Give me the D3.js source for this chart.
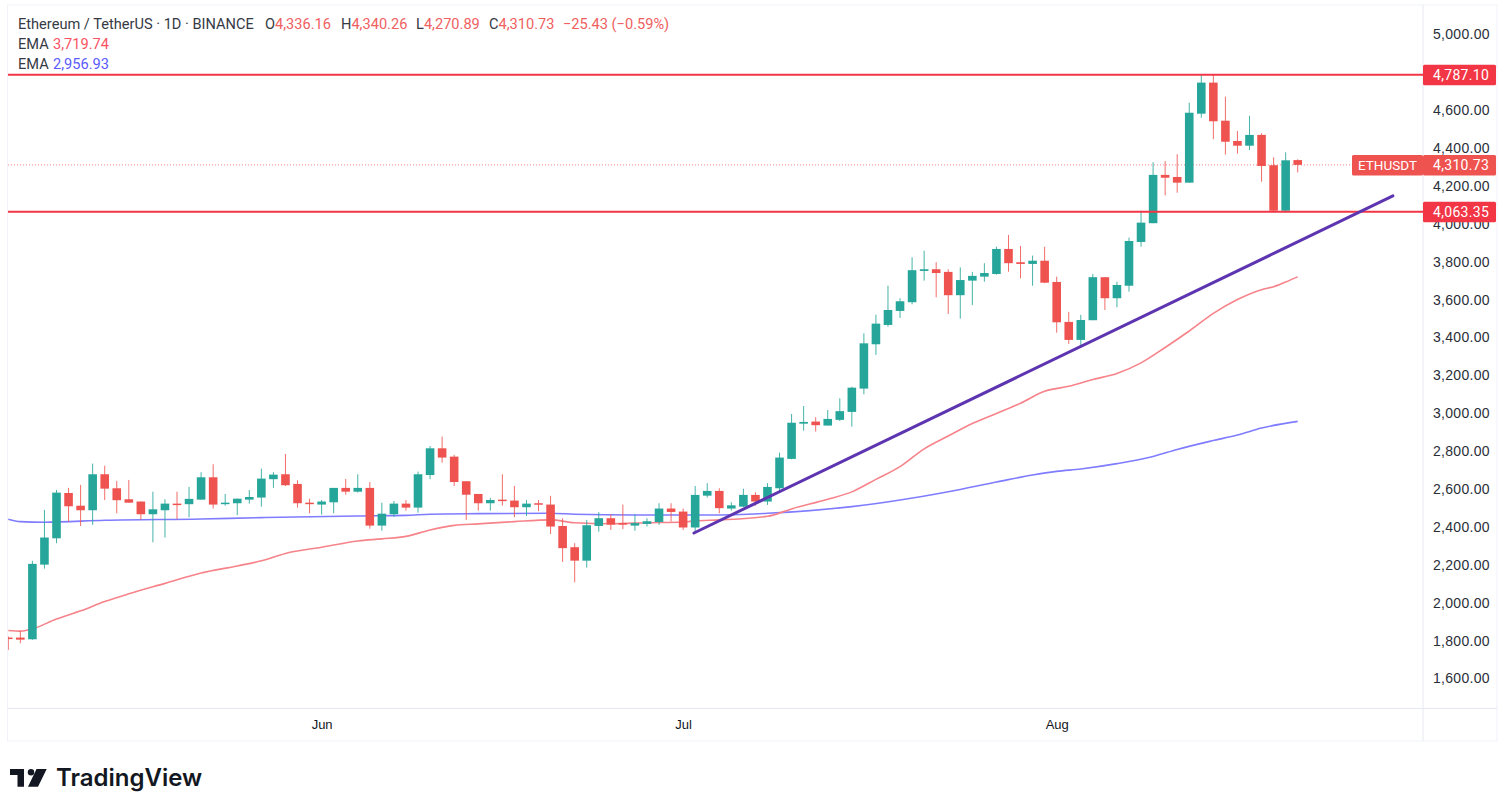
<!DOCTYPE html>
<html>
<head>
<meta charset="utf-8">
<title>ETHUSDT</title>
<script src="https://cdn.jsdelivr.net/npm/d3@7"></script>
<style>
    html, body { margin: 0; background: #fff; overflow: hidden; }
    svg { display: block; font-family: Roboto, sans-serif; }
</style>
</head>
<body>
<div id="chart"></div>
<script>
const COLOR_UP = "#26a69a",
    COLOR_DOWN = "#ef5350",
    COLOR_LEVEL = "#f23645",
    COLOR_EMA_FAST = "#f7838a",
    COLOR_EMA_SLOW = "#7f7cff",
    COLOR_TREND = "#5e35b1",
    COLOR_TEXT = "#131722",
    COLOR_LEGEND = "#363a45",
    COLOR_BORDER = "#e6e8ef";

// Bougies journalières
const opens = [1816,1816,1807,2201,2340,2579,2512,2488,2678,2604,2546,2534,2467,2488,2523,2520,2544,2662,2525,2525,
    2544,2555,2652,2678,2627,2528,2518,2530,2606,2586,2606,2407,2467,2523,2502,2674,2815,2771,2641,2574,
    2525,2544,2539,2504,2525,2518,2405,2293,2222,2405,2446,2420,2407,2416,2426,2497,2481,2397,2565,2590,
    2497,2507,2569,2534,2604,2759,2945,2956,2935,2965,3007,3130,3364,3466,3540,3586,3751,3760,3746,3623,
    3700,3721,3735,3867,3797,3788,3805,3693,3482,3387,3491,3718,3607,3673,3904,4003,4258,4247,4217,4581,
    4745,4544,4437,4412,4469,4309,4069,4336.16];
const highs = [1822,1851,2221,2490,2595,2606,2622,2734,2723,2643,2648,2534,2586,2546,2586,2611,2689,2731,2574,2549,
    2595,2708,2689,2785,2646,2549,2542,2606,2653,2678,2637,2528,2537,2542,2692,2827,2877,2780,2641,2574,
    2553,2678,2616,2542,2542,2564,2446,2314,2437,2478,2467,2518,2467,2446,2525,2525,2497,2616,2631,2604,
    2530,2602,2583,2631,2792,2996,3038,2979,3017,3079,3140,3422,3520,3673,3607,3823,3858,3797,3760,3770,
    3746,3792,3879,3941,3883,3832,3879,3721,3535,3519,3735,3718,3694,3927,4069,4325,4331,4367,4639,4787,
    4787,4671,4490,4570,4478,4351,4377,4340.26];
const lows = [1751,1786,1804,2180,2314,2428,2405,2411,2542,2472,2527,2437,2319,2344,2441,2451,2544,2497,2512,2462,
    2523,2507,2606,2616,2502,2472,2465,2472,2570,2581,2391,2380,2454,2486,2475,2652,2739,2616,2437,2486,
    2486,2512,2451,2458,2483,2363,2215,2108,2185,2375,2384,2389,2380,2402,2411,2428,2384,2367,2555,2472,
    2486,2505,2512,2516,2586,2757,2908,2903,2935,2959,2929,3100,3308,3457,3503,3575,3700,3612,3524,3499,
    3571,3694,3731,3747,3712,3673,3686,3425,3366,3351,3491,3545,3559,3642,3879,4003,4150,4164,4217,4560,
    4447,4365,4370,4389,4222,4059,4059,4270.89];
const closes = [1813,1805,2205,2344,2581,2509,2488,2678,2602,2541,2528,2467,2493,2523,2518,2548,2662,2518,2528,2549,
    2558,2655,2676,2620,2525,2525,2534,2606,2586,2606,2407,2470,2523,2502,2678,2815,2766,2637,2570,2525,
    2542,2539,2504,2523,2521,2402,2288,2222,2409,2446,2412,2412,2420,2430,2497,2479,2397,2569,2590,2499,
    2514,2569,2534,2611,2766,2950,2954,2937,2970,3011,3135,3369,3473,3545,3591,3755,3760,3740,3623,3703,
    3725,3740,3867,3792,3788,3805,3689,3480,3387,3492,3718,3607,3677,3909,4006,4258,4243,4217,4586,4745,
    4541,4433,4412,4469,4305,4069,4335,4310.73];

// Moyennes mobiles : index de bougie et valeur
const emaFastIndex = [0,1,2,4,6,8,10,13,16,19,21,23,26,29,31,33,35,37,39,42,45,47,50,53,56,57,59,63,65,68,70,72,74,76,78,80,82,84,86,88,90,92,94,96,98,100,102,104,105,106,107];
const emaFastValues = [1853,1850,1862,1914,1957,2006,2047,2102,2157,2194,2221,2260,2293,2326,2337,2350,2384,2408,2416,2428,2437,2422,2417,2422,2426,2432,2437,2456,2495,2546,2585,2651,2718,2812,2880,2946,2999,3053,3116,3142,3178,3210,3266,3347,3434,3527,3600,3652,3668,3693,3719.74];
const emaSlowIndex = [0,1,3,8,16,21,29,33,35,39,45,47,52,58,63,70,74,78,82,85,87,89,92,95,97,100,102,104,107];
const emaSlowValues = [2441,2428,2425,2435,2442,2449,2458,2461,2467,2470,2472,2467,2463,2463,2472,2507,2542,2586,2637,2674,2693,2706,2734,2772,2809,2856,2885,2922,2956.93];

// Ligne de tendance
const trendIndex = [56.9, 114.9];
const trendValues = [2368, 4147];

// Niveaux et axes
const levels = [4787.10, 4063.35];
const lastPrice = 4310.73;
const priceTicks = [1600,1800,2000,2200,2400,2600,2800,3000,3200,3400,3600,3800,4000,4200,4400,4600,5000];
const monthIndex = [26, 56, 87];
const monthLabels = ["Jun", "Jul", "Aug"];

// Légende
const legendQuote = [["O", "4,336.16", 265], ["H", "4,340.26", 341], ["L", "4,270.89", 416], ["C", "4,310.73", 489]];
const legendChange = "\u221225.43 (\u22120.59%)";
const legendEma = [["3,719.74", "#f7525f"], ["2,956.93", "#5b5bff"]];

const width = 1507, height = 807;
const plot = { left: 8, right: 1423, top: 5, bottom: 708.5, outerRight: 1497, outerBottom: 741 };

const x = d3.scaleLinear().domain([0, 107]).range([8.3, 1297.7]);
const y = d3.scaleLinear().domain([1600, 5000]).range([678.5, 34.3]);
const price = d3.format(",.2f");

const svg = d3.select("#chart")
    .append("svg")
    .attr("width", width)
    .attr("height", height);

svg.append("defs").append("clipPath")
    .attr("id", "plot-clip")
    .append("rect")
    .attr("x", plot.left)
    .attr("y", plot.top)
    .attr("width", plot.right - plot.left)
    .attr("height", plot.bottom - plot.top);

// Cadre
svg.append("rect")
    .attr("x", 7.5)
    .attr("y", plot.top)
    .attr("width", plot.outerRight - 7.5)
    .attr("height", plot.outerBottom - plot.top)
    .attr("fill", "none")
    .attr("stroke", "#f0f3fa");
svg.append("line")
    .attr("x1", plot.right).attr("x2", plot.right)
    .attr("y1", plot.top).attr("y2", plot.outerBottom)
    .attr("stroke", COLOR_BORDER);
svg.append("line")
    .attr("x1", 7.5).attr("x2", plot.outerRight)
    .attr("y1", plot.bottom).attr("y2", plot.bottom)
    .attr("stroke", COLOR_BORDER);

const chart = svg.append("g").attr("clip-path", "url(#plot-clip)");

// EMA derrière les bougies
function drawEma(indexes, values, color) {
    const line = d3.line()
        .x(i => x(indexes[i]))
        .y(i => y(values[i]))
        .curve(d3.curveMonotoneX);
    chart.append("path")
        .attr("d", line(d3.range(indexes.length)))
        .attr("fill", "none")
        .attr("stroke", color)
        .attr("stroke-width", 1.6);
}
drawEma(emaSlowIndex, emaSlowValues, COLOR_EMA_SLOW);
drawEma(emaFastIndex, emaFastValues, COLOR_EMA_FAST);

// Ligne du dernier prix
chart.append("line")
    .attr("x1", plot.left).attr("x2", 1352)
    .attr("y1", y(lastPrice)).attr("y2", y(lastPrice))
    .attr("stroke", COLOR_DOWN)
    .attr("stroke-opacity", 0.7)
    .attr("stroke-dasharray", "1 2");

// Bougies
const candles = chart.selectAll(".candle")
    .data(d3.range(opens.length))
    .enter()
    .append("g")
    .attr("class", "candle")
    .attr("fill", i => closes[i] >= opens[i] ? COLOR_UP : COLOR_DOWN)
    .attr("stroke", i => closes[i] >= opens[i] ? COLOR_UP : COLOR_DOWN);

candles.append("line")
    .attr("x1", i => x(i)).attr("x2", i => x(i))
    .attr("y1", i => y(highs[i]))
    .attr("y2", i => y(lows[i]))
    .attr("stroke-width", 1)
    .attr("stroke-opacity", 0.85);

candles.append("rect")
    .attr("x", i => x(i) - 4.3)
    .attr("width", 8.6)
    .attr("y", i => y(Math.max(opens[i], closes[i])))
    .attr("height", i => Math.max(Math.abs(y(opens[i]) - y(closes[i])), 1.5))
    .attr("stroke", "none");

// Niveaux horizontaux
chart.selectAll(".level")
    .data(levels)
    .enter()
    .append("line")
    .attr("class", "level")
    .attr("x1", plot.left).attr("x2", plot.right)
    .attr("y1", d => y(d)).attr("y2", d => y(d))
    .attr("stroke", COLOR_LEVEL)
    .attr("stroke-width", 2);

// Ligne de tendance
svg.append("line")
    .attr("x1", x(trendIndex[0])).attr("y1", y(trendValues[0]))
    .attr("x2", x(trendIndex[1])).attr("y2", y(trendValues[1]))
    .attr("stroke", COLOR_TREND)
    .attr("stroke-width", 3)
    .attr("stroke-linecap", "round");

// Axe des prix
const priceAxis = svg.append("g")
    .attr("transform", `translate(${plot.right},0)`)
    .call(d3.axisRight(y).tickValues(priceTicks).tickSize(0).tickPadding(10).tickFormat(price));
priceAxis.select(".domain").remove();
priceAxis.selectAll("text")
    .attr("fill", "#2a2e39")
    .style("font-size", "14px")
    .style("letter-spacing", "0.3px");

// Axe du temps
const timeAxis = svg.append("g")
    .attr("transform", `translate(0,${plot.bottom})`)
    .call(d3.axisBottom(x).tickValues(monthIndex).tickSize(0).tickPadding(11).tickFormat((d, i) => monthLabels[i]));
timeAxis.select(".domain").remove();
timeAxis.selectAll("text")
    .attr("fill", COLOR_TEXT)
    .style("font-size", "13px")
    .style("font-weight", 500);

// Étiquettes de prix
function priceTag(value, color) {
    svg.append("rect")
        .attr("x", plot.right)
        .attr("y", y(value) - 10)
        .attr("width", 73)
        .attr("height", 20.5)
        .attr("rx", 1.5)
        .attr("fill", color);
    svg.append("text")
        .attr("x", plot.right + 10)
        .attr("y", y(value))
        .attr("dy", "0.35em")
        .attr("fill", "#fff")
        .style("font-size", "14px")
        .style("letter-spacing", "0.3px")
        .text(price(value));
}
levels.forEach(d => priceTag(d, COLOR_LEVEL));

svg.append("rect")
    .attr("x", 1352)
    .attr("y", y(lastPrice) - 10)
    .attr("width", 71)
    .attr("height", 20.5)
    .attr("rx", 1.5)
    .attr("fill", COLOR_DOWN);
svg.append("text")
    .attr("x", 1358)
    .attr("y", y(lastPrice))
    .attr("dy", "0.35em")
    .attr("fill", "#fff")
    .style("font-size", "13.5px")
    .text("ETHUSDT");
priceTag(lastPrice, COLOR_DOWN);

// Légende en haut à gauche
const legend = svg.append("g").style("font-size", "14.6px");
legend.append("text")
    .attr("x", 18).attr("y", 29)
    .attr("fill", COLOR_LEGEND)
    .text("Ethereum / TetherUS \u00b7 1D \u00b7 BINANCE");

legendQuote.forEach(d => {
    const label = legend.append("text")
        .attr("x", d[2]).attr("y", 29)
        .attr("fill", COLOR_LEGEND);
    label.append("tspan").text(d[0]);
    label.append("tspan").attr("fill", "#f0605f").text(d[1]);
});
legend.append("text")
    .attr("x", 563).attr("y", 29)
    .attr("fill", "#f0605f")
    .text(legendChange);

legendEma.forEach((d, i) => {
    legend.append("text")
        .attr("x", 18).attr("y", 49 + i * 20)
        .attr("fill", COLOR_LEGEND)
        .text("EMA");
    legend.append("text")
        .attr("x", 53).attr("y", 49 + i * 20)
        .attr("fill", d[1])
        .text(d[0]);
});

// Logo TradingView
const logo = svg.append("g").attr("transform", "translate(10,769)");
logo.append("path")
    .attr("d", "M0 0H14V17.7H7.5V6H0zM26.5 0H36.7L28 17.7H18z")
    .attr("fill", COLOR_TEXT);
logo.append("circle")
    .attr("cx", 21).attr("cy", 3.2).attr("r", 3.2)
    .attr("fill", COLOR_TEXT);
svg.append("text")
    .attr("x", 56).attr("y", 786)
    .attr("fill", COLOR_TEXT)
    .style("font-family", "Inter, sans-serif")
    .style("font-size", "24px")
    .style("font-weight", 600)
    .text("TradingView");
</script>
</body>
</html>
